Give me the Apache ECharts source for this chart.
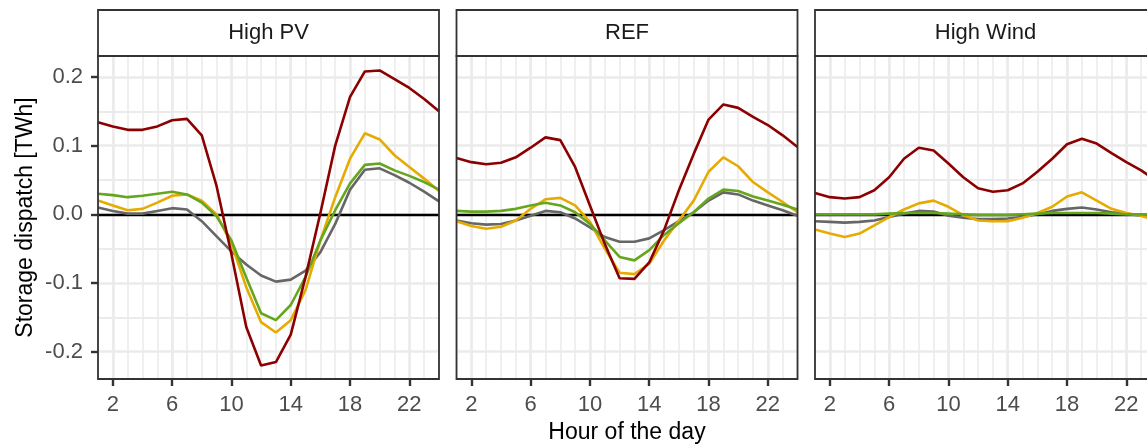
<!DOCTYPE html>
<html><head><meta charset="utf-8">
<script src="https://cdn.jsdelivr.net/npm/echarts@6/dist/echarts.min.js"></script>
<style>html,body{margin:0;padding:0;background:#fff}#c{width:1147px;height:445px}</style>
</head><body><div id="c"></div>
<script>
// ---- data ----
const hours = [1,2,3,4,5,6,7,8,9,10,11,12,13,14,15,16,17,18,19,20,21,22,23,24];
const panels = ['High PV', 'REF', 'High Wind'];
const xTickLabels = [2, 6, 10, 14, 18, 22];
const yTickLabels = [-0.2, -0.1, 0, 0.1, 0.2];
const yMinorBreaks = [-0.15, -0.05, 0.05, 0.15];
const seriesNames = ['Grey', 'Yellow', 'Green', 'Red'];
const seriesColors = ['#666666', '#E6AB02', '#66A61E', '#8B0000'];

// High PV
const pvGrey   = [0.010, 0.005, 0.001, 0.001, 0.005, 0.009, 0.007, -0.010, -0.032, -0.054, -0.073, -0.089, -0.098, -0.095, -0.082, -0.055, -0.014, 0.036, 0.065, 0.067, 0.057, 0.046, 0.033, 0.019];
const pvYellow = [0.020, 0.013, 0.006, 0.008, 0.017, 0.027, 0.029, 0.020, 0.000, -0.043, -0.106, -0.157, -0.172, -0.154, -0.110, -0.038, 0.025, 0.081, 0.118, 0.109, 0.086, 0.069, 0.052, 0.034];
const pvGreen  = [0.030, 0.028, 0.025, 0.027, 0.030, 0.033, 0.029, 0.017, -0.003, -0.038, -0.092, -0.144, -0.154, -0.132, -0.091, -0.038, 0.006, 0.045, 0.072, 0.074, 0.064, 0.056, 0.047, 0.036];
const pvRed    = [0.134, 0.128, 0.123, 0.123, 0.128, 0.137, 0.139, 0.115, 0.041, -0.058, -0.164, -0.220, -0.215, -0.175, -0.091, 0.002, 0.100, 0.171, 0.208, 0.2095, 0.197, 0.184, 0.168, 0.150];
// REF
const refGrey   = [-0.009, -0.013, -0.015, -0.014, -0.009, -0.002, 0.005, 0.003, -0.006, -0.019, -0.033, -0.040, -0.040, -0.035, -0.023, -0.010, 0.003, 0.020, 0.032, 0.029, 0.020, 0.013, 0.006, -0.002];
const refYellow = [-0.010, -0.017, -0.021, -0.018, -0.009, 0.008, 0.022, 0.024, 0.013, -0.011, -0.050, -0.085, -0.087, -0.072, -0.038, -0.009, 0.020, 0.062, 0.083, 0.070, 0.047, 0.032, 0.018, 0.003];
const refGreen  = [0.005, 0.004, 0.004, 0.005, 0.008, 0.013, 0.017, 0.013, 0.003, -0.014, -0.038, -0.062, -0.067, -0.052, -0.030, -0.013, 0.003, 0.023, 0.036, 0.034, 0.026, 0.020, 0.014, 0.007];
const refRed    = [0.082, 0.076, 0.073, 0.075, 0.083, 0.097, 0.112, 0.108, 0.069, 0.013, -0.043, -0.093, -0.094, -0.070, -0.023, 0.035, 0.088, 0.138, 0.160, 0.155, 0.142, 0.130, 0.115, 0.098];
// High Wind
const windGrey   = [-0.010, -0.011, -0.012, -0.011, -0.009, -0.004, 0.001, 0.005, 0.004, -0.002, -0.005, -0.007, -0.007, -0.006, -0.004, 0.000, 0.005, 0.008, 0.010, 0.007, 0.003, 0.001, -0.002, -0.004];
const windYellow = [-0.022, -0.028, -0.033, -0.028, -0.016, -0.004, 0.007, 0.016, 0.020, 0.011, -0.001, -0.009, -0.010, -0.010, -0.005, 0.002, 0.011, 0.026, 0.032, 0.020, 0.008, 0.002, -0.002, -0.009];
const windGreen  = [0.000, 0.000, 0.000, 0.000, 0.000, 0.001, 0.002, 0.002, 0.002, 0.001, 0.000, -0.001, -0.001, -0.001, 0.000, 0.001, 0.002, 0.002, 0.002, 0.002, 0.001, 0.000, 0.000, 0.000];
const windRed    = [0.031, 0.025, 0.023, 0.025, 0.035, 0.054, 0.081, 0.097, 0.093, 0.074, 0.054, 0.038, 0.033, 0.035, 0.045, 0.062, 0.081, 0.102, 0.110, 0.103, 0.089, 0.076, 0.064, 0.049];

const panelData = [
  [pvGrey, pvYellow, pvGreen, pvRed],
  [refGrey, refYellow, refGreen, refRed],
  [windGrey, windYellow, windGreen, windRed]
];

// ---- layout / style ----
const FONT = 'Liberation Sans, Arial, sans-serif';
const gridLefts = [98, 456.5, 815];
const gridTop = 56, gridW = 341, gridH = 323;
const Y_MIN = -0.2397, Y_MAX = 0.2305;
const gridColor = '#EBEBEB';
const borderColor = '#333333';

const grids = [], xAxes = [], yAxes = [], series = [], graphics = [];

panels.forEach((name, p) => {
  grids.push({left: gridLefts[p], top: gridTop, width: gridW, height: gridH,
    outerBoundsMode: 'none', containLabel: false, show: false});
  // minor x (every hour)
  xAxes.push({gridIndex: p, type: 'value', min: 1, max: 24, interval: 1, position: 'bottom',
    axisLine: {show: false, onZero: false}, axisTick: {show: false}, axisLabel: {show: false},
    splitLine: {show: true, lineStyle: {color: gridColor, width: 1.6}}});
  // major x
  xAxes.push({gridIndex: p, type: 'value', min: 1, max: 24, position: 'bottom',
    axisLine: {show: false, onZero: false},
    axisTick: {show: true, customValues: xTickLabels, length: 7, lineStyle: {color: borderColor, width: 2.4}},
    axisLabel: {show: true, customValues: xTickLabels, margin: 15, color: '#4D4D4D', fontSize: 22, fontFamily: FONT},
    splitLine: {show: true, lineStyle: {color: gridColor, width: 2.6}},
    name: p === 1 ? 'Hour of the day' : '', nameLocation: 'middle', nameGap: 41,
    nameTextStyle: {color: '#000', fontSize: 23, fontFamily: FONT}});
  // minor y
  yAxes.push({gridIndex: p, type: 'value', min: Y_MIN, max: Y_MAX, position: 'left',
    axisLine: {show: false, onZero: false}, axisTick: {show: false, customValues: yMinorBreaks}, axisLabel: {show: false},
    splitLine: {show: true, lineStyle: {color: gridColor, width: 1.8}}});
  // major y
  yAxes.push({gridIndex: p, type: 'value', min: Y_MIN, max: Y_MAX, position: 'left',
    axisLine: {show: false, onZero: false},
    axisTick: {show: p === 0, customValues: yTickLabels, length: 7, lineStyle: {color: borderColor, width: 2.4}},
    axisLabel: {show: p === 0, customValues: yTickLabels, margin: 15, color: '#4D4D4D', fontSize: 22, fontFamily: FONT,
      formatter: v => v.toFixed(1)},
    splitLine: {show: true, lineStyle: {color: gridColor, width: 2.6}},
    name: p === 0 ? 'Storage dispatch [TWh]' : '', nameLocation: 'middle', nameGap: 61, nameRotate: 90,
    nameTextStyle: {color: '#000', fontSize: 23, fontFamily: FONT}});

  panelData[p].forEach((arr, s) => {
    const ser = {
      name: seriesNames[s], type: 'line', xAxisIndex: 2 * p + 1, yAxisIndex: 2 * p + 1,
      data: hours.map((h, i) => [h, arr[i]]),
      showSymbol: false, symbol: 'none', z: 10,
      lineStyle: {color: seriesColors[s], width: 2.6}, itemStyle: {color: seriesColors[s]},
      silent: true, clip: true
    };
    if (s === 0) {
      ser.markLine = {silent: true, symbol: 'none', label: {show: false},
        lineStyle: {color: '#000', width: 2.3, type: 'solid'}, data: [{yAxis: 0}]};
    }
    series.push(ser);
  });

  // panel border (drawn on top)
  graphics.push({type: 'rect', shape: {x: gridLefts[p], y: gridTop, width: gridW, height: gridH},
    style: {fill: 'none', stroke: borderColor, lineWidth: 1.8}, z: 100, silent: true});
  // strip
  graphics.push({type: 'rect', shape: {x: gridLefts[p], y: 10, width: gridW, height: gridTop - 10},
    style: {fill: '#fff', stroke: borderColor, lineWidth: 1.8}, z: 100, silent: true});
  graphics.push({type: 'text', x: gridLefts[p] + gridW / 2, y: 33,
    style: {text: name, fill: '#1A1A1A', font: '22px ' + FONT, textAlign: 'center', textVerticalAlign: 'middle'}, z: 101});
});

const chart = echarts.init(document.getElementById('c'), null, {renderer: 'canvas'});
chart.setOption({
  animation: false,
  backgroundColor: '#fff',
  grid: grids, xAxis: xAxes, yAxis: yAxes, series: series,
  graphic: graphics,
  tooltip: {show: false}
});
</script></body></html>
